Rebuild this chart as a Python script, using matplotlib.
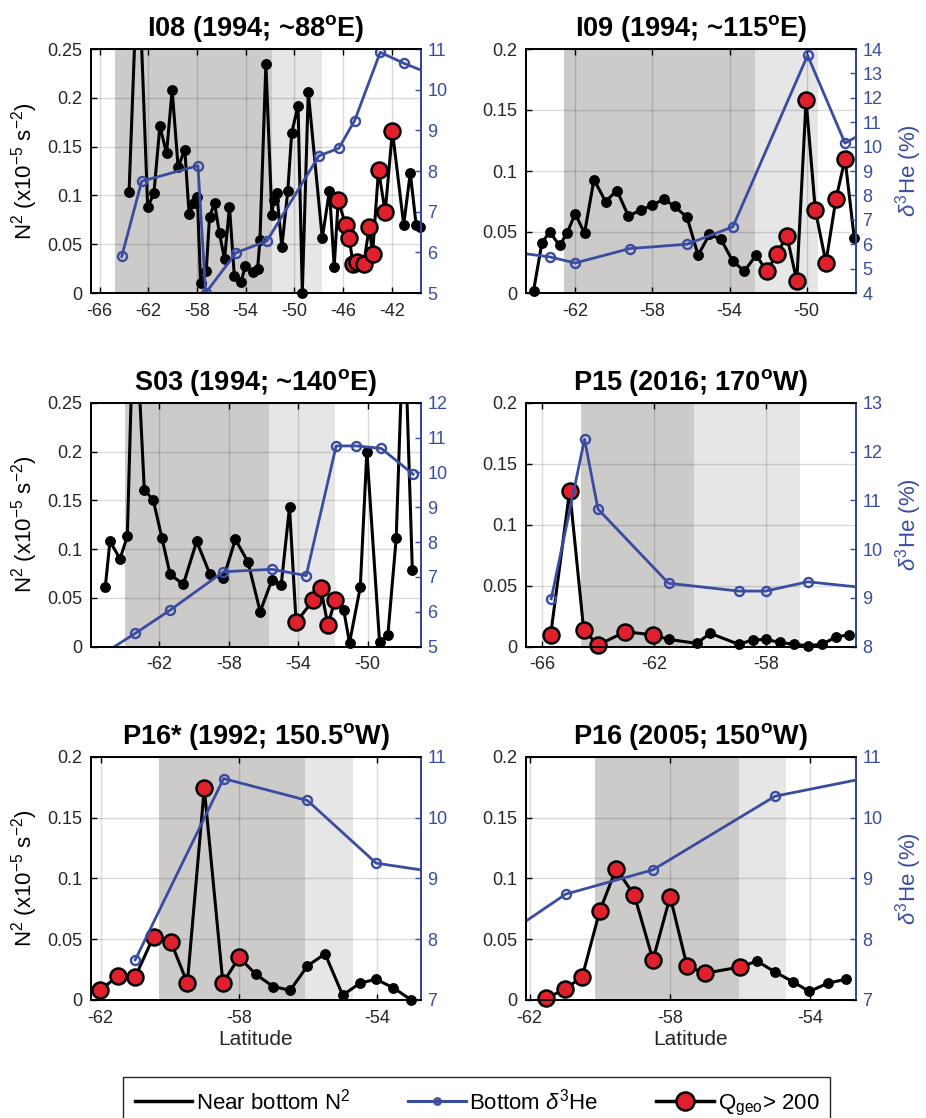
import matplotlib.pyplot as plt
import numpy as np
from matplotlib.lines import Line2D

plt.rcParams["font.family"] = ["Liberation Sans", "DejaVu Sans"]
plt.rcParams["mathtext.fontset"] = "custom"
plt.rcParams["mathtext.rm"] = "Liberation Sans"
plt.rcParams["mathtext.it"] = "Liberation Sans:italic"
plt.rcParams["mathtext.bf"] = "Liberation Sans:bold"
plt.rcParams["axes.unicode_minus"] = False

# I08 (1994; ~88E)
i08_lat = [-63.58, -62.84, -62.05, -61.54, -61.05, -60.50, -60.04, -59.55, -59.00, -58.65,
           -58.27, -57.97, -57.70, -57.24, -56.97, -56.56, -56.15, -55.74, -55.33, -54.93,
           -54.38, -54.03, -53.43, -53.02, -52.83, -52.34, -51.85, -51.70, -51.44, -51.03,
           -50.54, -50.22, -49.70, -49.35, -48.86, -47.71, -47.12, -46.73, -46.40, -45.80,
           -45.48, -45.20, -44.86, -44.30, -43.85, -43.58, -43.09, -42.54, -41.95, -41.02,
           -40.48, -40.00, -39.65]
i08_n2 = [0.103, 0.350, 0.088, 0.102, 0.171, 0.143, 0.208, 0.129, 0.147, 0.081,
          0.092, 0.098, 0.010, 0.023, 0.078, 0.092, 0.061, 0.035, 0.088, 0.017,
          0.011, 0.028, 0.022, 0.025, 0.054, 0.235, 0.080, 0.095, 0.102, 0.047,
          0.105, 0.164, 0.192, 0.000, 0.206, 0.056, 0.105, 0.027, 0.095, 0.070,
          0.056, 0.030, 0.032, 0.030, 0.068, 0.040, 0.126, 0.083, 0.166, 0.070,
          0.123, 0.070, 0.068]
i08_q = [0, 0, 0, 0, 0, 0, 0, 0, 0, 0,
         0, 0, 0, 0, 0, 0, 0, 0, 0, 0,
         0, 0, 0, 0, 0, 0, 0, 0, 0, 0,
         0, 0, 0, 0, 0, 0, 0, 0, 1, 1,
         1, 1, 1, 1, 1, 1, 1, 1, 1, 0,
         0, 0, 0]
i08_he_lat = [-64.18, -62.54, -57.92, -57.29, -54.79, -52.26, -47.99, -46.35, -45.05, -42.95, -41.02, -38.50]
i08_he = [5.90, 7.75, 8.13, 5.00, 5.99, 6.28, 8.37, 8.56, 9.24, 10.92, 10.65, 10.35]
i08_bands = [-64.7, -51.8, -47.7]

# I09 (1994; ~115E)
i09_lat = [-64.16, -63.73, -63.33, -62.81, -62.43, -62.00, -61.52, -61.03, -60.43, -59.84,
           -59.24, -58.61, -58.00, -57.40, -56.85, -56.20, -55.63, -55.04, -54.44, -53.83,
           -53.23, -52.62, -52.07, -51.53, -51.03, -50.51, -50.03, -49.55, -49.00, -48.48,
           -48.01, -47.53]
i09_n2 = [0.002, 0.041, 0.050, 0.039, 0.049, 0.065, 0.049, 0.093, 0.075, 0.084,
          0.063, 0.068, 0.072, 0.077, 0.071, 0.062, 0.031, 0.048, 0.044, 0.026,
          0.018, 0.031, 0.018, 0.032, 0.047, 0.010, 0.158, 0.068, 0.025, 0.077,
          0.110, 0.045]
i09_q = [0, 0, 0, 0, 0, 0, 0, 0, 0, 0,
         0, 0, 0, 0, 0, 0, 0, 0, 0, 0,
         0, 0, 1, 1, 1, 1, 1, 1, 1, 1,
         1, 0]
i09_he_lat = [-65.00, -63.33, -62.00, -59.18, -56.20, -53.83, -49.95, -48.01, -47.20]
i09_he = [5.65, 5.48, 5.23, 5.82, 6.00, 6.71, 13.74, 10.14, 10.50]
i09_bands = [-62.59, -52.68, -49.41]

# S03 (1994; ~140E)
s03_lat = [-65.12, -64.85, -64.27, -63.85, -63.45, -62.87, -62.35, -61.85, -61.38, -60.62,
           -59.85, -59.08, -58.31, -57.62, -56.90, -56.19, -55.52, -54.98, -54.50, -54.12,
           -53.12, -52.69, -52.29, -51.87, -51.38, -51.04, -50.42, -50.04, -49.31, -48.83,
           -48.35, -47.90, -47.42]
s03_n2 = [0.061, 0.108, 0.090, 0.113, 0.370, 0.161, 0.150, 0.111, 0.074, 0.064,
          0.108, 0.074, 0.070, 0.110, 0.087, 0.036, 0.068, 0.063, 0.143, 0.025,
          0.048, 0.060, 0.022, 0.048, 0.038, 0.004, 0.061, 0.200, 0.005, 0.012,
          0.111, 0.350, 0.079]
s03_q = [0, 0, 0, 0, 0, 0, 0, 0, 0, 0,
         0, 0, 0, 0, 0, 0, 0, 0, 0, 1,
         1, 1, 1, 1, 0, 0, 0, 0, 0, 0,
         0, 0, 0]
s03_he_lat = [-65.20, -63.40, -61.38, -58.31, -55.52, -53.54, -51.81, -50.65, -49.21, -47.38]
s03_he = [4.81, 5.38, 6.05, 7.15, 7.22, 7.04, 10.76, 10.76, 10.69, 9.95]
s03_bands = [-63.98, -55.71, -51.87]

# P15 (2016; 170W)
p15_lat = [-65.69, -65.01, -64.51, -64.00, -63.02, -62.02, -61.48, -60.47, -60.00, -58.98,
           -58.47, -58.02, -57.52, -57.02, -56.51, -56.01, -55.52, -55.03]
p15_n2 = [0.0096, 0.128, 0.0137, 0.0014, 0.0123, 0.0096, 0.006, 0.0027, 0.011, 0.002,
          0.0055, 0.006, 0.0036, 0.002, 0.0008, 0.002, 0.0077, 0.010]
p15_q = [1, 1, 1, 1, 1, 1, 0, 0, 0, 0,
         0, 0, 0, 0, 0, 0, 0, 0]
p15_he_lat = [-65.67, -64.48, -64.00, -61.48, -58.98, -58.02, -56.51, -54.50]
p15_he = [8.98, 12.25, 10.82, 9.30, 9.14, 9.14, 9.33, 9.21]
p15_bands = [-64.6, -60.57, -56.78]

# P16* (1992; 150.5W)
p16a_lat = [-62.02, -61.49, -61.00, -60.47, -59.97, -59.49, -59.00, -58.46, -57.99, -57.50,
            -57.00, -56.51, -56.01, -55.50, -54.99, -54.48, -54.02, -53.52, -53.00]
p16a_n2 = [0.008, 0.020, 0.019, 0.052, 0.048, 0.014, 0.174, 0.014, 0.035, 0.021,
           0.011, 0.008, 0.028, 0.038, 0.004, 0.014, 0.017, 0.010, 0.000]
p16a_q = [1, 1, 1, 1, 1, 1, 1, 1, 1, 0,
          0, 0, 0, 0, 0, 0, 0, 0, 0]
p16a_he_lat = [-61.00, -58.44, -56.01, -54.02, -52.50]
p16a_he = [7.66, 10.64, 10.28, 9.25, 9.12]
p16a_bands = [-60.3, -56.09, -54.68]

# P16 (2005; 150W)
p16b_lat = [-61.52, -61.00, -60.50, -60.00, -59.53, -59.01, -58.48, -57.99, -57.51, -57.01,
            -56.01, -55.51, -55.00, -54.49, -54.02, -53.48, -52.97]
p16b_n2 = [0.0014, 0.0088, 0.019, 0.073, 0.108, 0.086, 0.033, 0.085, 0.028, 0.022,
           0.027, 0.032, 0.023, 0.015, 0.007, 0.014, 0.017]
p16b_q = [1, 1, 1, 1, 1, 1, 1, 1, 1, 1,
          1, 0, 0, 0, 0, 0, 0]
p16b_he_lat = [-62.30, -60.97, -58.48, -55.00, -52.40]
p16b_he = [8.22, 8.74, 9.14, 10.35, 10.65]
p16b_bands = [-60.12, -56.02, -54.68]

titles = [r"I08 (1994; ~88$^{\mathbf{o}}$E)", r"I09 (1994; ~115$^{\mathbf{o}}$E)",
          r"S03 (1994; ~140$^{\mathbf{o}}$E)", r"P15 (2016; 170$^{\mathbf{o}}$W)",
          r"P16* (1992; 150.5$^{\mathbf{o}}$W)", r"P16 (2005; 150$^{\mathbf{o}}$W)"]

panels = [
    (i08_lat, i08_n2, i08_q, i08_he_lat, i08_he, i08_bands,
     (-66.73, -39.6), np.arange(-66, -41, 4), 0.25, (5, 11)),
    (i09_lat, i09_n2, i09_q, i09_he_lat, i09_he, i09_bands,
     (-64.57, -47.44), np.arange(-62, -49, 4), 0.2, (4, 14)),
    (s03_lat, s03_n2, s03_q, s03_he_lat, s03_he, s03_bands,
     (-65.96, -46.92), np.arange(-62, -49, 4), 0.25, (5, 12)),
    (p15_lat, p15_n2, p15_q, p15_he_lat, p15_he, p15_bands,
     (-66.58, -54.79), np.arange(-66, -57, 4), 0.2, (8, 13)),
    (p16a_lat, p16a_n2, p16a_q, p16a_he_lat, p16a_he, p16a_bands,
     (-62.29, -52.72), np.arange(-62, -53, 4), 0.2, (7, 11)),
    (p16b_lat, p16b_n2, p16b_q, p16b_he_lat, p16b_he, p16b_bands,
     (-62.11, -52.69), np.arange(-62, -53, 4), 0.2, (7, 11)),
]

blue = "#3a4ca0"
red = "#e0202c"
dark = "#cdcaca"
light = "#e7e6e6"

W, H = 926, 1118
fig = plt.figure(figsize=(W / 100, H / 100), dpi=100)

lefts = [90.7, 525.7]
tops = [49, 402.7, 756.7]
bottoms = [293, 646.7, 1000]
width = 330.3

for k, (lat, n2, q, he_lat, he, bands, xlim, xticks, ymax, helim) in enumerate(panels):
    row, col = k // 2, k % 2
    rect = [lefts[col] / W, 1 - bottoms[row] / H, width / W, (bottoms[row] - tops[row]) / H]
    ax = fig.add_axes(rect)
    lat = np.array(lat)
    n2 = np.array(n2)
    q = np.array(q, dtype=bool)

    ax.axvspan(bands[0], bands[1], color=dark, lw=0, zorder=0.5)
    ax.axvspan(bands[1], bands[2], color=light, lw=0, zorder=0.5)
    ax.grid(True, color="k", alpha=0.15, lw=1)

    ax.plot(lat, n2, "-", color="k", lw=2.2, zorder=3)
    vis = n2 <= ymax
    ax.plot(lat[vis & ~q], n2[vis & ~q], "o", color="k", ms=6.8, zorder=3, clip_on=False)
    ax.plot(lat[q], n2[q], "o", mfc=red, mec="k", ms=11.5, mew=1.8, zorder=4, clip_on=False)

    ax.set_xlim(xlim)
    ax.set_ylim(0, ymax)
    ax.set_xticks(xticks)
    ax.set_yticks(np.arange(0, ymax + 0.001, 0.05))
    ax.yaxis.set_major_formatter(plt.FuncFormatter(lambda v, p: f"{v:g}"))
    ax.tick_params(direction="in", length=4, width=1, labelsize=13, top=True,
                   colors="k", labelcolor="#262626")
    ax.tick_params(axis="x", pad=7)
    ax.tick_params(axis="y", pad=6)
    for s in ax.spines.values():
        s.set_linewidth(1.3)
    ax.set_title(titles[k], fontsize=19.5, fontweight="bold", pad=9)

    ax2 = ax.twinx()
    ax2.plot(he_lat, he, "-o", color=blue, mfc="none", ms=6.5, mew=1.7, lw=2.0)
    ax2.set_ylim(helim)
    ax2.set_yticks(np.arange(helim[0], helim[1] + 1))
    ax2.tick_params(direction="in", length=4, width=1, labelsize=13, colors=blue, pad=4.5)
    ax2.spines["right"].set_color(blue)
    for s in ax2.spines.values():
        s.set_linewidth(1.3)
    ax2.set_xlim(xlim)

    if col == 0:
        ax.set_ylabel(r"N$^2$ (x10$^{-5}$ s$^{-2}$)", fontsize=16)
        ax.yaxis.set_label_coords(-0.155, 0.5)
    else:
        ax2.set_ylabel(r"$\mathit{\delta}^3$He (%)", fontsize=16, color=blue)
        ax2.yaxis.set_label_coords(1.112, 0.5)
    if row == 2:
        ax.set_xlabel("Latitude", fontsize=15, color="#262626")
        ax.xaxis.set_label_coords(0.5, -0.125)

handles = [
    Line2D([], [], color="k", lw=2.5),
    Line2D([], [], color=blue, lw=2.2, marker="o", ms=4.5, mfc="none", mew=1.8),
    Line2D([], [], color="k", lw=2.5, marker="o", ms=13, mfc=red, mec="k", mew=1.8),
]
labels = [r"Near bottom N$^2$", r"Bottom $\mathit{\delta}^3$He", r"Q$_{\mathrm{geo}}$> 200"]
fig.legend(handles, labels, loc="upper center", bbox_to_anchor=(0.515, 1 - 1077 / H),
           ncol=3, fontsize=16, frameon=True, fancybox=False, edgecolor="#262626",
           framealpha=1, handlelength=2.6, handletextpad=0.15, columnspacing=2.6,
           borderpad=0.5, borderaxespad=0)

fig.savefig("out.png", dpi=100)
